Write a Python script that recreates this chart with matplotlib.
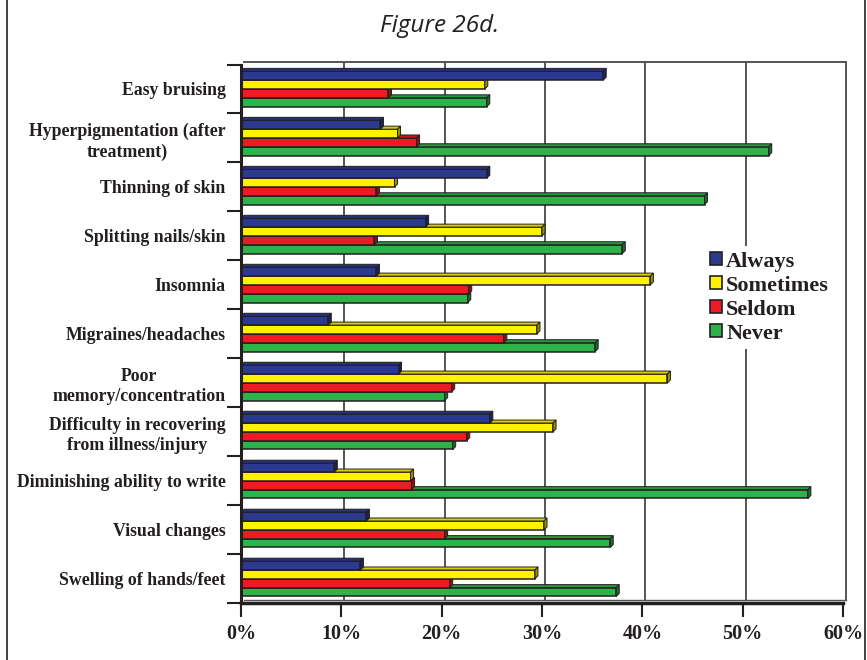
import matplotlib
matplotlib.use('Agg')
import matplotlib.pyplot as plt
from matplotlib.patches import Polygon, Patch
from matplotlib.lines import Line2D
import matplotlib.colors as mcolors
import numpy as np

categories = [
    'Easy bruising',
    'Hyperpigmentation (after\ntreatment)',
    'Thinning of skin',
    'Splitting nails/skin',
    'Insomnia',
    'Migraines/headaches',
    'Poor\nmemory/concentration',
    'Difficulty in recovering\nfrom illness/injury',
    'Diminishing ability to write',
    'Visual changes',
    'Swelling of hands/feet',
]
always    = [36.1, 13.9, 24.5, 18.4, 13.5, 8.7, 15.7, 24.8, 9.3, 12.5, 11.9]
sometimes = [24.3, 15.6, 15.3, 30.0, 40.8, 29.5, 42.5, 31.1, 16.9, 30.2, 29.3]
seldom    = [14.7, 17.5, 13.5, 13.3, 22.7, 26.2, 21.0, 22.5, 17.0, 20.3, 20.8]
never     = [24.5, 52.6, 46.2, 38.0, 22.6, 35.3, 20.3, 21.1, 56.5, 36.8, 37.4]
series_names = ['Always', 'Sometimes', 'Seldom', 'Never']
x_ticks = [0, 10, 20, 30, 40, 50, 60]
x_tick_labels = ['0%', '10%', '20%', '30%', '40%', '50%', '60%']

series_values = [always, sometimes, seldom, never]
colors = ['#2B3990', '#FFF200', '#ED1C24', '#2DB34A']
edge = '#231F20'

W, H = 867, 660
fig = plt.figure(figsize=(W / 100, H / 100), dpi=100)
ax_l, ax_r, ax_t, ax_b = 241, 843, 64.5, 603.3
ax = fig.add_axes([ax_l / W, 1 - ax_b / H, (ax_r - ax_l) / W, (ax_b - ax_t) / H])
n = len(categories)
ax.set_xlim(0, 60)
ax.set_ylim(n - 0.5, -0.5)

px_x = 60 / (ax_r - ax_l)
px_y = n / (ax_b - ax_t)
depth = 3.0
dx = depth * px_x
dy = -depth * px_y

def shade(c, f):
    r, g, b = mcolors.to_rgb(c)
    return (r * f, g * f, b * f)

bar_h = 0.18
offsets = [-1.5 * bar_h, -0.5 * bar_h, 0.5 * bar_h, 1.5 * bar_h]
pos = np.arange(n)

# back wall grid
for t in x_ticks[1:]:
    ax.add_line(Line2D([t + dx, t + dx], [n - 0.5 + dy, -0.5 + dy], color='#555555',
                       lw=1.4, zorder=1, clip_on=False))
ax.add_line(Line2D([dx, 60 + dx], [-0.5 + dy, -0.5 + dy], color='#555555', lw=1.4,
                   zorder=1, clip_on=False))
ax.add_line(Line2D([dx, 60 + dx], [n - 0.5 + dy, n - 0.5 + dy], color='#555555', lw=1.0,
                   zorder=1, clip_on=False))

# draw from bottom series (Never) to top series (Always)
for k in [3, 2, 1, 0]:
    vals = series_values[k]
    c = colors[k]
    z = 3 + (3 - k)
    for i, v in enumerate(vals):
        yc = pos[i] + offsets[k]
        y_top = yc - bar_h / 2
        y_bot = yc + bar_h / 2
        ax.barh(yc, v, height=bar_h, color=c, edgecolor=edge, linewidth=1.1, zorder=z)
        top = Polygon([(0, y_top), (v, y_top), (v + dx, y_top + dy), (dx, y_top + dy)],
                      closed=True, facecolor=shade(c, 0.85), edgecolor=edge, linewidth=0.7,
                      zorder=z)
        side = Polygon([(v, y_top), (v + dx, y_top + dy), (v + dx, y_bot + dy), (v, y_bot)],
                       closed=True, facecolor=shade(c, 0.6), edgecolor=edge, linewidth=0.7,
                       zorder=z)
        ax.add_patch(top)
        ax.add_patch(side)

for s in ['top', 'right']:
    ax.spines[s].set_visible(False)
ax.spines['left'].set_linewidth(2.2)
ax.spines['bottom'].set_linewidth(2.5)
ax.spines['left'].set_color(edge)
ax.spines['bottom'].set_color(edge)
ax.spines['left'].set_zorder(10)
ax.spines['bottom'].set_zorder(10)

serif = 'Liberation Serif'
ax.set_yticks(np.arange(n + 1) - 0.5)
ax.set_yticklabels([])
ax.set_yticks(pos, minor=True)
ax.set_yticklabels(categories, minor=True, fontsize=12.8, fontweight='bold', family=serif,
                   color=edge, multialignment='center', linespacing=1.25)
ax.tick_params(axis='y', which='major', length=10, width=1.5, color=edge, direction='out')
ax.tick_params(axis='y', which='minor', length=0, pad=11)

ax.set_xticks(x_ticks)
ax.set_xticklabels(x_tick_labels, fontsize=14.5, fontweight='bold', family=serif, color=edge)
ax.tick_params(axis='x', which='major', length=10, width=1.5, color=edge, direction='out', pad=5)

handles = [Patch(facecolor=colors[k], edgecolor=edge, linewidth=1.2) for k in range(4)]
leg = fig.legend(handles, series_names, loc='upper left',
                 bbox_to_anchor=(704 / W, 1 - 246 / H),
                 prop={'family': serif, 'weight': 'bold', 'size': 16},
                 handlelength=0.55, handleheight=0.55, handletextpad=0.2,
                 labelspacing=0.18, frameon=True, borderpad=0.25, borderaxespad=0)
leg.get_frame().set_facecolor('white')
leg.get_frame().set_edgecolor('none')
leg.get_frame().set_alpha(1)
leg.set_zorder(20)
for t in leg.get_texts():
    t.set_color(edge)

fig.text(440 / W, 1 - 32.3 / H, 'Figure 26d.', ha='center', va='baseline',
         fontsize=17.5, style='italic', family='Open Sans', color=edge)

fig.add_artist(Line2D([7 / W, 7 / W], [0, 1], color=edge, lw=1.2))
fig.add_artist(Line2D([865 / W, 865 / W], [0, 1], color=edge, lw=1.2))

fig.savefig('out.png', dpi=100)
